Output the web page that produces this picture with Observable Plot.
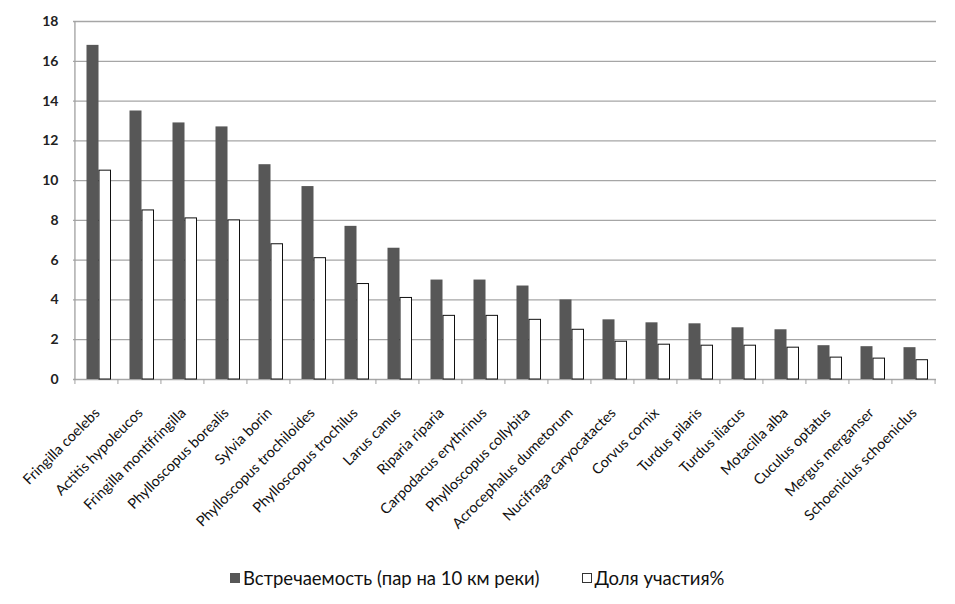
<!DOCTYPE html>
<html><head><meta charset="utf-8">
<script src="https://cdn.jsdelivr.net/npm/d3@7"></script>
<script src="https://cdn.jsdelivr.net/npm/@observablehq/plot@0.6"></script>
<style>
body{margin:0;background:#fff;font-family:Lato,"Open Sans",sans-serif}
#legend{display:flex;justify-content:flex-start;align-items:center;height:46px;padding-left:230px;font-size:18.5px;color:#111}
#legend .item{display:flex;align-items:center;margin-right:42px}
#legend .sw{width:10px;height:10px;margin-right:3px;box-sizing:border-box}
</style>
</head><body>
<div id="chart"></div>
<div id="legend"></div>
<script>
const species = ["Fringilla coelebs","Actitis hypoleucos","Fringilla montifringilla","Phylloscopus borealis","Sylvia borin","Phylloscopus trochiloides","Phylloscopus trochilus","Larus canus","Riparia riparia","Carpodacus erythrinus","Phylloscopus collybita","Acrocephalus dumetorum","Nucifraga caryocatactes","Corvus cornix","Turdus pilaris","Turdus iliacus","Motacilla alba","Cuculus optatus","Mergus merganser","Schoeniclus schoeniclus"];
const occurrence = [16.8,13.5,12.9,12.7,10.8,9.7,7.7,6.6,5.0,5.0,4.7,4.0,3.0,2.85,2.8,2.6,2.5,1.7,1.65,1.6];
const share = [10.5,8.5,8.1,8.0,6.8,6.1,4.8,4.1,3.2,3.2,3.0,2.5,1.9,1.75,1.7,1.7,1.6,1.1,1.05,0.97];
const seriesNames = ["Встречаемость (пар на 10 км реки)","Доля участия%"];
const yTicks = [0,2,4,6,8,10,12,14,16,18];

const W = 955, ML = 73, MR = 19, MT = 21, H = 555, MB = 176;
const step = (W - ML - MR) / species.length;
const occRows = species.map((s,i)=>({species:s, value:occurrence[i]}));
const shareRows = species.map((s,i)=>({species:s, value:share[i]}));
const half = step * 0.556 / 2;

const chart = Plot.plot({
  width: W, height: H,
  marginLeft: ML, marginRight: MR, marginTop: MT, marginBottom: MB,
  style: {fontFamily: "Lato, 'Open Sans', sans-serif", background: "#fff"},
  x: {domain: species, paddingInner: 0.444, paddingOuter: 0.222, label: null},
  y: {domain: [0,18], label: null},
  marks: [
    Plot.ruleY(yTicks, {stroke: "#a6a6a6", strokeWidth: 1.3}),
    Plot.ruleX([species[0]], {y1: 0, y2: 18, dx: -step/2, stroke: "#a0a0a0", strokeWidth: 1.3}),
    Plot.ruleY(yTicks, {x1: species[0], x2: species[0], dx: -step/2, insetLeft: -4, stroke: "#a0a0a0"}),
    Plot.ruleX(species, {y1: 0, y2: 0, insetBottom: -5, dx: -step/2, stroke: "#a0a0a0"}),
    Plot.ruleX([species[species.length-1]], {y1: 0, y2: 0, insetBottom: -5, dx: step/2, stroke: "#a0a0a0"}),
    Plot.barY(occRows, {x: "species", y: "value", fill: "#575757", insetRight: half, dx: 2.5}),
    Plot.barY(shareRows, {x: "species", y: "value", fill: "#fff", stroke: "#111", strokeWidth: 1, insetLeft: half + 0.5, dx: 2.5}),
    Plot.axisY({ticks: yTicks, tickSize: 0, tickPadding: 15, fontSize: 14, fontWeight: "bold", fill: "#222"}),
    Plot.axisX({tickSize: 0, tickRotate: -45, tickPadding: 31, fontSize: 14.5, fill: "#111", dx: 1})
  ]
});
document.getElementById("chart").appendChild(chart);

const lg = document.getElementById("legend");
const colors = [["#575757","#575757"],["#fff","#333"]];
seriesNames.forEach((n,i)=>{
  const it = document.createElement("div"); it.className="item";
  const sw = document.createElement("div"); sw.className="sw";
  sw.style.background = colors[i][0]; sw.style.border = "1px solid " + colors[i][1];
  const t = document.createElement("span"); t.textContent = n;
  it.appendChild(sw); it.appendChild(t); lg.appendChild(it);
});
</script>
</body></html>
